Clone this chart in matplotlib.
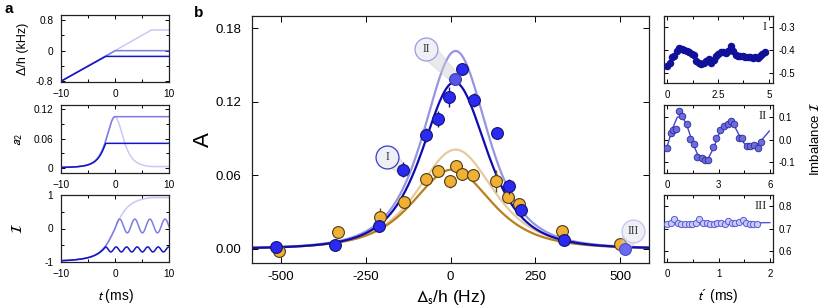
import numpy as np
import matplotlib
matplotlib.use("Agg")
import matplotlib.pyplot as plt
from matplotlib.patches import Polygon
from matplotlib.ticker import MultipleLocator, FixedLocator

plt.rcParams['font.family'] = ['Liberation Sans', 'DejaVu Sans']
plt.rcParams['mathtext.fontset'] = 'stixsans'

# ---------------- data: panel b ----------------
blue_det = [-515, -340, -210, -140, -73, -38, -3, 14, 33, 68, 138, 171, 207, 335, 513]
blue_amp = [0.0014, 0.0033, 0.019, 0.0647, 0.093, 0.1056, 0.124, 0.139, 0.1465, 0.1214, 0.0947, 0.051, 0.0314, 0.0074, 0.0]
blue_err = [0.004, 0.002, 0.002, 0.006, 0.0055, 0.0065, 0.008, 0.003, 0.005, 0.006, 0.005, 0.006, 0.002, 0.002, 0.001]

orange_det = [-506, -332, -207, -138, -72, -37, -1, 16, 33, 66, 135, 168, 201, 330, 499]
orange_amp = [-0.002, 0.0134, 0.0257, 0.038, 0.057, 0.0633, 0.055, 0.068, 0.0614, 0.0606, 0.0557, 0.042, 0.0366, 0.0147, 0.004]
orange_err = [0.002, 0.002, 0.008, 0.003, 0.003, 0.003, 0.005, 0.003, 0.003, 0.003, 0.009, 0.004, 0.003, 0.002, 0.002]

# fit curves (peak, centre, width)
fit_names = ['dark_blue', 'light_blue', 'light_orange', 'dark_orange']
fit_peak = [0.136, 0.1615, 0.081, 0.0647]
fit_center = [12, 15, 15, 5]
fit_width = [174, 172, 205, 212]
fit_colors = ['#0c0cb0', '#8a8ae0', '#e3c597', '#b8801a']
fit_alpha = [1.0, 0.9, 0.9, 1.0]

# labelled points (index in blue arrays) and label positions
label_text = ['I', 'II', 'III']
label_index = [3, 7, 14]
label_pos_det = [-186, -72, 538]
label_pos_amp = [0.075, 0.163, 0.0147]
label_edge = ['#3a3ad0', '#9a9ae6', '#c4c4f0']

# ---------------- data: panel a ----------------
ramp_t = [[-10, -1.75, 10], [-10, 0, 10], [-10, 6.7, 10]]
ramp_det = [[-0.8, -0.15, -0.15], [-0.8, 0.0, 0.0], [-0.8, 0.54, 0.54]]
ramp_stop = [-1.75, 0.0, 6.7]
a_colors = ['#1414c4', '#7c7ce2', '#c9c9f4']
a2_max = 0.105
a2_width = 0.224
imb_coupling = 0.228
osc_mean = [-0.625, 0.075, None]
osc_amp = [0.075, 0.205, None]
osc_period = [1.95, 2.8, None]

# ---------------- data: right panels ----------------
tI_step = 0.12
imbI = [-0.470, -0.455, -0.432, -0.425, -0.405, -0.390, -0.395, -0.398, -0.405, -0.408,
        -0.418, -0.420, -0.448, -0.455, -0.462, -0.455, -0.450, -0.440, -0.455, -0.445,
        -0.425, -0.418, -0.410, -0.408, -0.412, -0.405, -0.382, -0.405, -0.420, -0.425,
        -0.428, -0.425, -0.430, -0.432, -0.430, -0.433, -0.432, -0.433, -0.425, -0.418, -0.410]
errI = [0.006, 0.008, 0.01, 0.006, 0.008, 0.006, 0.01, 0.006, 0.006, 0.008,
        0.006, 0.006, 0.008, 0.006, 0.006, 0.01, 0.006, 0.008, 0.008, 0.006,
        0.006, 0.006, 0.006, 0.006, 0.006, 0.006, 0.006, 0.006, 0.01, 0.006,
        0.012, 0.006, 0.014, 0.006, 0.012, 0.006, 0.012, 0.006, 0.01, 0.006, 0.006]

tII = [0.02, 0.23, 0.33, 0.5, 0.70, 0.89, 1.15, 1.34, 1.57, 1.77, 2.02, 2.21, 2.41, 2.66,
       2.85, 3.09, 3.32, 3.53, 3.75, 3.92, 4.19, 4.39, 4.64, 4.85, 5.07, 5.28, 5.47]
imbII = [-0.040, 0.031, 0.044, 0.049, 0.126, 0.105, 0.068, 0.004, -0.018, -0.077, -0.084,
         -0.092, -0.092, -0.033, 0.007, 0.041, 0.061, 0.070, 0.081, 0.071, 0.007, 0.007,
         -0.028, -0.028, -0.025, -0.040, -0.010]
fitII_t = [0.0, 0.3, 0.6, 0.9, 1.2, 1.5, 1.8, 2.1, 2.4, 2.7, 3.0, 3.3, 3.6, 3.9, 4.2,
           4.5, 4.8, 5.1, 5.4, 5.7, 5.95]
fitII_v = [-0.035, 0.045, 0.100, 0.105, 0.055, -0.015, -0.070, -0.092, -0.085, -0.040,
           0.020, 0.062, 0.080, 0.065, 0.020, -0.018, -0.034, -0.032, -0.012, 0.015, 0.038]

tIII_step = 0.07
imbIII = [0.718, 0.725, 0.744, 0.725, 0.719, 0.722, 0.722, 0.718, 0.726, 0.740, 0.726,
          0.726, 0.722, 0.718, 0.726, 0.725, 0.722, 0.734, 0.725, 0.725, 0.729, 0.737,
          0.726, 0.722, 0.722, 0.722]
fitIII_t = [0.0, 2.0]
fitIII_v = [0.720, 0.726]

W, H = 830, 308
fig = plt.figure(figsize=(W / 100, H / 100), dpi=100)


def px_axes(l, t, r, b):
    return fig.add_axes([l / W, 1 - b / H, (r - l) / W, (b - t) / H])


def style_ticks(ax, size, length=3, xpad=4, ypad=4):
    ax.tick_params(which='both', direction='in', top=True, right=True,
                   labelsize=size, width=0.7)
    ax.tick_params(axis='x', which='both', pad=xpad)
    ax.tick_params(axis='y', which='both', pad=ypad)
    ax.tick_params(which='major', length=length)
    ax.tick_params(which='minor', length=length * 0.7)
    for s in ax.spines.values():
        s.set_linewidth(0.9)
        s.set_color('#222222')


# ================= panel a =================
axa1 = px_axes(61, 15.5, 169, 82)
axa2 = px_axes(61, 105.5, 169, 173)
axa3 = px_axes(61, 195, 169, 262)

t = np.linspace(-10, 10, 2000)
for k in range(3):
    det = np.interp(t, ramp_t[k], ramp_det[k])
    axa1.plot(t, det, color=a_colors[k], lw=1.1, zorder=3 - k)
    a2 = a2_max / (1 + (det / a2_width) ** 2) ** 2
    axa2.plot(t, a2, color=a_colors[k], lw=1.1, zorder=3 - k)
    imb = det / np.sqrt(det ** 2 + imb_coupling ** 2)
    if osc_mean[k] is not None:
        t0 = ramp_stop[k]
        after = t >= t0
        i0 = ramp_det[k][1] / np.sqrt(ramp_det[k][1] ** 2 + imb_coupling ** 2)
        m, A, T = osc_mean[k], osc_amp[k], osc_period[k]
        c = np.clip((m - i0) / A, -1, 1)
        phi = np.arccos(c)
        imb[after] = m - A * np.cos(2 * np.pi * (t[after] - t0) / T + phi)
    axa3.plot(t, imb, color=a_colors[k], lw=1.1, zorder=3 - k)

for ax in (axa1, axa2, axa3):
    ax.set_xlim(-10, 10)
    ax.xaxis.set_major_locator(FixedLocator([-10, 0, 10]))
    ax.xaxis.set_minor_locator(MultipleLocator(5))
    style_ticks(ax, 7.3, 3, xpad=5, ypad=5.5)

axa1.set_ylim(-0.82, 0.92)
axa1.set_yticks([-0.8, 0, 0.8])
axa1.set_yticklabels(['-0.8', '0', '0.8'])
axa1.yaxis.set_minor_locator(MultipleLocator(0.4))
axa1.set_ylabel('Δ/h (kHz)', fontsize=9)
axa1.yaxis.set_label_coords(-0.30, 0.5)

axa2.set_ylim(-0.011, 0.128)
axa2.set_yticks([0, 0.06, 0.12])
axa2.set_yticklabels(['0', '0.06', '0.12'])
axa2.yaxis.set_minor_locator(MultipleLocator(0.03))
axa2.set_ylabel('$a_2$', fontsize=10)
axa2.yaxis.set_label_coords(-0.33, 0.5)

axa3.set_ylim(-1.0, 1.0)
axa3.set_yticks([-1, 0, 1])
axa3.set_yticklabels(['-1', '0', '1'])
axa3.yaxis.set_minor_locator(MultipleLocator(0.5))
axa3.set_ylabel(r'$\mathcal{I}$', fontsize=11)
axa3.yaxis.set_label_coords(-0.33, 0.5)
axa3.set_xlabel('$t$ (ms)', fontsize=10)
axa3.xaxis.set_label_coords(0.5, -0.37)

fig.text(4 / W, 1 - 9 / H, 'a', fontsize=11, fontweight='bold', va='center', ha='left')

# ================= panel b =================
axb = px_axes(252, 16, 649, 263)
axb.set_xlim(-585, 585)
axb.set_ylim(-0.0115, 0.19)
xs = np.linspace(-585, 585, 800)
for k in range(4):
    ys = fit_peak[k] / (1 + ((xs - fit_center[k]) / fit_width[k]) ** 2) ** 2
    axb.plot(xs, ys, color=fit_colors[k], lw=1.6, alpha=fit_alpha[k],
             zorder=[2.4, 2.3, 2.1, 2.2][k])

axb.errorbar(orange_det, orange_amp, yerr=orange_err, fmt='o', ms=8.5,
             mfc='#f0b033', mec='#4d3a18', mew=0.8, ecolor='#6b4e16', elinewidth=1.0,
             capsize=0, zorder=4)

plain = [i for i in range(len(blue_det)) if i not in label_index[1:]]
axb.errorbar([blue_det[i] for i in plain], [blue_amp[i] for i in plain],
             yerr=[blue_err[i] for i in plain], fmt='o', ms=8.5,
             mfc='#2a2af2', mec='#14146e', mew=0.8, ecolor='#14146e', elinewidth=1.0,
             capsize=0, zorder=5)
special_fc = ['#2a2af2', '#5656e6', '#6a6af0']
special_ec = ['#14146e', '#3a3ab0', '#4a4ac8']
for j, idx in enumerate(label_index):
    if j == 0:
        continue
    axb.errorbar([blue_det[idx]], [blue_amp[idx]], yerr=[blue_err[idx]], fmt='o', ms=8.5,
                 mfc=special_fc[j], mec=special_ec[j], mew=0.8, ecolor=special_ec[j],
                 elinewidth=1.0, capsize=0, zorder=5)

fig.canvas.draw()
trans = axb.transData
r_lab, r_pt = 8.3, 5.0
for j, idx in enumerate(label_index):
    p0 = trans.transform((label_pos_det[j], label_pos_amp[j]))
    p1 = trans.transform((blue_det[idx], blue_amp[idx]))
    d = p1 - p0
    d = d / np.hypot(*d)
    n = np.array([-d[1], d[0]])
    poly = np.array([p0 + n * r_lab, p1 + n * r_pt, p1 - n * r_pt, p0 - n * r_lab])
    poly_data = trans.inverted().transform(poly)
    axb.add_patch(Polygon(poly_data, closed=True, fc='#cfcfd4', ec='#b8b8c0',
                          lw=0.5, alpha=0.45, zorder=4.5))
    axb.plot([label_pos_det[j]], [label_pos_amp[j]], 'o', ms=16.5, mfc='#efeff6',
             mec=label_edge[j], mew=0.9, zorder=6)
    axb.text(label_pos_det[j], label_pos_amp[j], label_text[j], ha='center', va='center',
             fontsize=8.5, family='Liberation Serif', color='#333333', zorder=7)

axb.set_xticks([-500, -250, 0, 250, 500])
axb.set_xticklabels(['-500', '-250', '0', '250', '500'])
axb.set_yticks([0, 0.06, 0.12, 0.18])
axb.set_yticklabels(['0.00', '0.06', '0.12', '0.18'])
style_ticks(axb, 9.5, 4, xpad=6, ypad=8)
axb.set_xlabel(r'$\Delta_{\rm s}$/h (Hz)', fontsize=12.5)
axb.xaxis.set_label_coords(0.5, -0.10)
axb.set_ylabel('A', fontsize=16)
axb.yaxis.set_label_coords(-0.095, 0.5)
fig.text(194 / W, 1 - 13 / H, 'b', fontsize=11, fontweight='bold', va='center', ha='left')

# ================= right panels =================
axI = px_axes(664, 16, 773, 83)
axII = px_axes(664, 105, 773, 173)
axIII = px_axes(664, 195, 773, 262)

tI = np.arange(len(imbI)) * tI_step
axI.plot(tI, imbI, color='#10109a', lw=1.0, zorder=2)
axI.errorbar(tI, imbI, yerr=errI, fmt='o', ms=4.4, mfc='#10109a', mec='#10109a',
             ecolor='#10109a', elinewidth=0.8, capsize=0, zorder=3)
axI.set_xlim(-0.15, 5.2)
axI.set_ylim(-0.545, -0.25)
axI.set_xticks([0, 2.5, 5])
axI.set_xticklabels(['0', '2.5', '5'])
axI.xaxis.set_minor_locator(MultipleLocator(1.25))
axI.set_yticks([-0.5, -0.4, -0.3])
axI.set_yticklabels(['-0.5', '-0.4', '-0.3'])

axII.plot(fitII_t, fitII_v, color='#4444d0', lw=1.0, zorder=2)
axII.plot(tII, imbII, 'o', ms=4.8, mfc='#6c6cdc', mec='#2a2a9a', mew=0.6, zorder=3)
axII.set_xlim(-0.17, 6.17)
axII.set_ylim(-0.15, 0.155)
axII.set_xticks([0, 3, 6])
axII.set_xticklabels(['0', '3', '6'])
axII.xaxis.set_minor_locator(MultipleLocator(1.5))
axII.set_yticks([-0.1, 0.0, 0.1])
axII.set_yticklabels(['-0.1', '0.0', '0.1'])

tIII = np.arange(len(imbIII)) * tIII_step
axIII.plot(fitIII_t, fitIII_v, color='#5252e0', lw=1.0, zorder=2)
axIII.plot(tIII, imbIII, 'o', ms=4.5, mfc='#cacaf6', mec='#5a5ad6', mew=0.7, zorder=3)
axIII.set_xlim(-0.06, 2.06)
axIII.set_ylim(0.552, 0.848)
axIII.set_xticks([0, 1, 2])
axIII.set_xticklabels(['0', '1', '2'])
axIII.xaxis.set_minor_locator(MultipleLocator(0.5))
axIII.set_yticks([0.6, 0.7, 0.8])
axIII.set_yticklabels(['0.6', '0.7', '0.8'])
axIII.set_xlabel('$t$´ (ms)', fontsize=10)
axIII.xaxis.set_label_coords(0.495, -0.37)

for ax, lab in zip((axI, axII, axIII), ('I', 'II', 'III')):
    style_ticks(ax, 7, 3, xpad=5, ypad=4)
    ax.tick_params(labelleft=False, labelright=True)
    ax.text(0.94, 0.84, lab, transform=ax.transAxes, ha='right', va='center',
            fontsize=9, family='Liberation Serif', color='#222222')

fig.text(815 / W, 1 - 139 / H, r'Imbalance $\mathcal{I}$', rotation=90, fontsize=9.5,
         ha='center', va='center')

fig.savefig('out.png', dpi=100)
